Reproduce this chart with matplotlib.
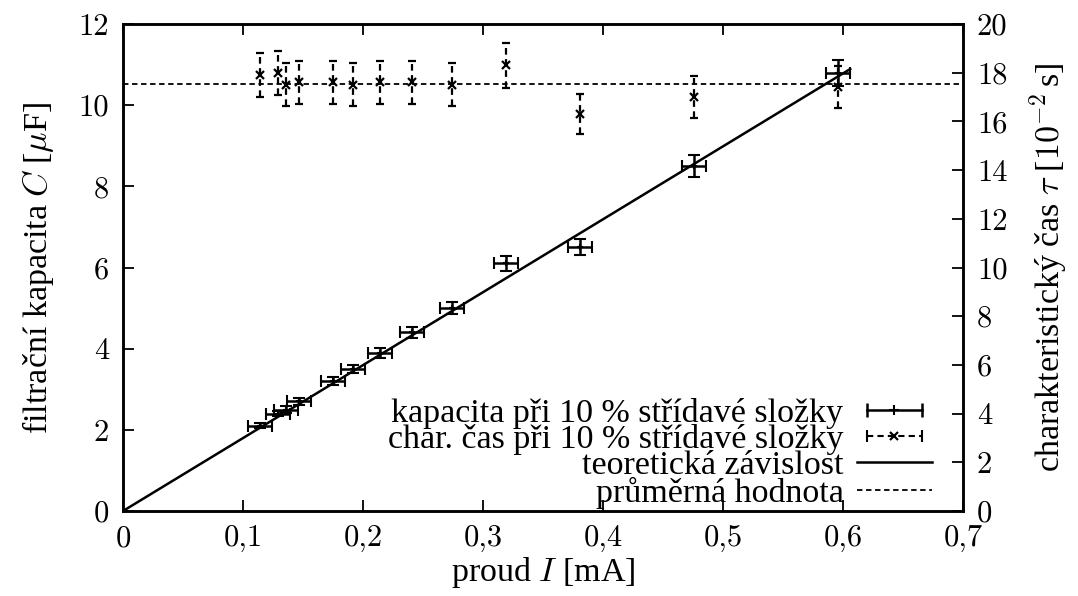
import matplotlib
matplotlib.use("Agg")
import matplotlib.pyplot as plt
from matplotlib.lines import Line2D
from matplotlib.legend_handler import HandlerLine2D
from matplotlib.ticker import FuncFormatter, MultipleLocator

plt.rcParams['font.family'] = ['Liberation Serif', 'DejaVu Serif']
plt.rcParams['mathtext.fontset'] = 'cm'
plt.rcParams['font.size'] = 24.5

# proud I [mA]
current = [0.114, 0.129, 0.136, 0.147, 0.175, 0.192, 0.214, 0.241, 0.274,
           0.319, 0.381, 0.476, 0.596]
currentErr = 0.01
# filtracni kapacita C [uF]
capacity = [2.1, 2.4, 2.5, 2.7, 3.2, 3.5, 3.9, 4.4, 5.0, 6.1, 6.5, 8.5, 10.8]
capacityErr = [0.06, 0.07, 0.08, 0.08, 0.1, 0.1, 0.12, 0.13, 0.15, 0.18, 0.2, 0.26, 0.32]
# charakteristicky cas tau [1e-2 s]
tau = [17.9, 18.0, 17.5, 17.6, 17.6, 17.5, 17.6, 17.6, 17.5, 18.3, 16.3, 17.0, 17.4]
tauErr = [0.9, 0.9, 0.88, 0.88, 0.88, 0.88, 0.88, 0.88, 0.88, 0.92, 0.82, 0.85, 0.87]
tauMean = 17.54
# teoreticka zavislost (end points of the line)
theoryI = [0.0, 0.606]
theoryC = [0.0, 10.89]

def commaFmt(v, pos):
    if abs(v) < 1e-9:
        return "0"
    return "{:.1f}".format(v).replace('.', ',')

fig = plt.figure(figsize=(10.78, 5.96), dpi=100)
ax = fig.add_axes([123 / 1078, 85 / 596, 840 / 1078, 487 / 596])
ax2 = ax.twinx()

lw = 1.8
ax.plot(theoryI, theoryC, color='black', lw=lw)
eb = ax.errorbar(current, capacity, xerr=currentErr, yerr=capacityErr, fmt='+',
                 color='black', ms=5, mew=1.5, elinewidth=lw, capsize=4, capthick=lw)

ax2.axhline(tauMean, color='black', lw=1.3, ls=(0, (3, 2)))
eb2 = ax2.errorbar(current, tau, yerr=tauErr, fmt='x', color='black', ms=6, mew=1.6,
                   elinewidth=1.6, capsize=3, capthick=1.6)
eb2[2][0].set_linestyle((0, (3, 2)))

ax.set_xlim(0, 0.7)
ax.set_ylim(0, 12)
ax2.set_ylim(0, 20)
ax.xaxis.set_major_locator(MultipleLocator(0.1))
ax.xaxis.set_major_formatter(FuncFormatter(commaFmt))
ax.yaxis.set_major_locator(MultipleLocator(2))
ax2.yaxis.set_major_locator(MultipleLocator(2))
tickStyle = dict(direction='in', length=8, width=1.3, pad=10,
                 labelsize=22, labelfontfamily='cmr10')
ax.tick_params(axis='x', top=True, **tickStyle)
ax.tick_params(axis='y', right=False, **tickStyle)
ax2.tick_params(axis='y', **tickStyle)
for a in (ax, ax2):
    for s in a.spines.values():
        s.set_linewidth(1.8)

ax.set_xlabel("proud $I$ [mA]", labelpad=2)
ax.set_ylabel("filtrační kapacita $C$ [$\\mu$F]", labelpad=16)
ax2.set_ylabel("charakteristický čas $\\tau$ [$10^{-2}\\,$s]", labelpad=14)

# legend handles in gnuplot style: line with end caps and a point in the middle
capLine = Line2D([], [], color='black', lw=lw, marker='|', ms=10, mew=lw)
capPoint = Line2D([], [], color='black', ls='none', marker='+', ms=7, mew=1.5)
tauLine = Line2D([], [], color='black', lw=1.5, ls=(0, (3, 2)), marker='|', ms=8, mew=1.5)
tauPoint = Line2D([], [], color='black', ls='none', marker='x', ms=6, mew=1.6)
theoryLine = Line2D([], [], color='black', lw=lw)
meanLine = Line2D([], [], color='black', lw=1.3, ls=(0, (3, 2)))

ax.legend([(capLine, capPoint), (tauLine, tauPoint), theoryLine, meanLine],
          ["kapacita při 10 % střídavé složky", "char. čas při 10 % střídavé složky",
           "teoretická závislost", "průměrná hodnota"],
          handler_map={capLine: HandlerLine2D(numpoints=2), tauLine: HandlerLine2D(numpoints=2)},
          loc='lower right', frameon=False, markerfirst=False, handlelength=2.2,
          handletextpad=0.4, labelspacing=-0.14, borderpad=0, borderaxespad=0,
          bbox_to_anchor=(0.963, 0.005))

fig.savefig("out.png", dpi=100)
